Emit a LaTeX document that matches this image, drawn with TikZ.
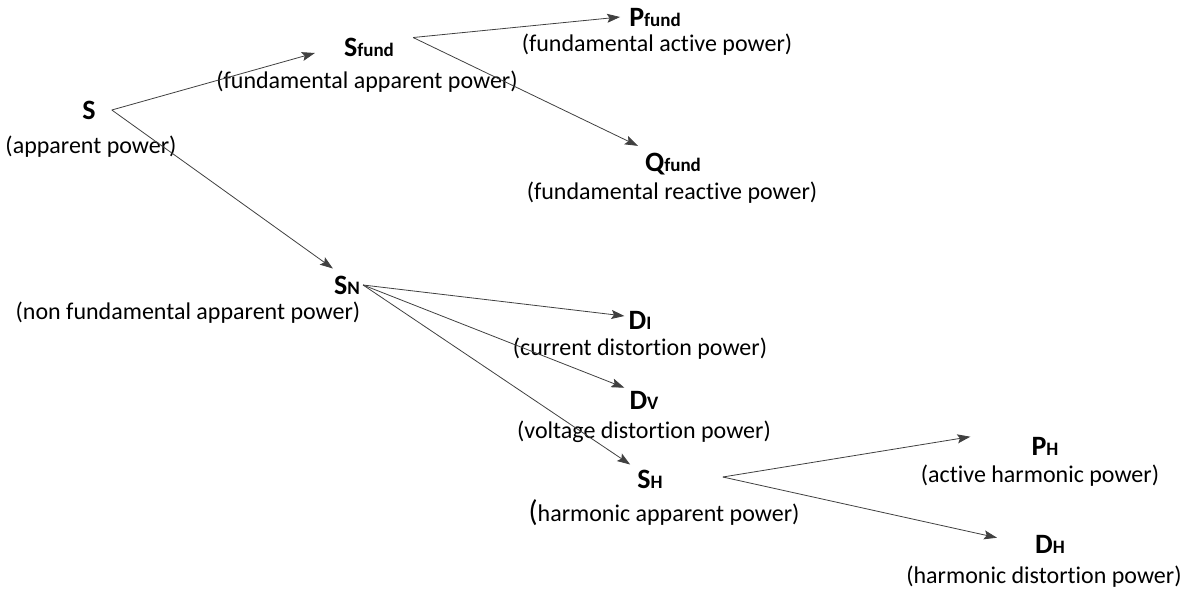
\documentclass[tikz,border=0pt]{standalone}
\usepackage{fontspec}
\setmainfont{Carlito}
\usepackage{xcolor}
\usepackage{tikz}
\usetikzlibrary{arrows.meta, positioning}

\definecolor{arrowgray}{HTML}{404040}
\newcommand{\powsub}[1]{{\fontsize{19}{22}\selectfont #1}}
\newcommand{\nolig}{\kern0pt}

\begin{document}
\begin{tikzpicture}[
        x=1pt, y=-1pt,
        sym/.style={
            inner sep=0pt,
            font=\fontsize{28}{32}\selectfont\bfseries
        },
        desc/.style={
            inner sep=0pt,
            font=\fontsize{24}{28}\selectfont
        },
        line/.style={
            draw=arrowgray,
            line width=0.8pt,
            -{Stealth[length=13pt, width=9pt, inset=2.5pt]}
        }
    ]
    \useasboundingbox (0,0) rectangle (1186,589);

    % --- POWER NODES ---
    \node [sym] (S) at (89,110) {S};
    \node [desc] (S-d) at (91,147) {(apparent power)};

    \node [sym] (Sfund) at (369,47) {S\powsub{fund}};
    \node [desc] (Sfund-d) at (367,82) {(fundamental apparent power)};

    \node [sym] (Pfund) at (655,17) {P\powsub{fund}};
    \node [desc] (Pfund-d) at (657,45) {(fundamental act\nolig ive power)};

    \node [sym] (Qfund) at (673,164) {Q\powsub{fund}};
    \node [desc] (Qfund-d) at (672,193) {(fundamental react\nolig ive power)};

    \node [sym] (SN) at (347,285) {S\powsub{N}};
    \node [desc] (SN-d) at (188,313) {(non fundamental apparent power)};

    \node [sym] (DI) at (640,320) {D\powsub{I}};
    \node [desc] (DI-d) at (640,349) {(current distort\nolig ion power)};

    \node [sym] (DV) at (644,400) {D\powsub{V}};
    \node [desc] (DV-d) at (644,432) {(voltage distort\nolig ion power)};

    \node [sym] (SH) at (650,479) {S\powsub{H}};
    \node [desc] (SH-d) at (664,513) {{\fontsize{30}{30}\selectfont(}harmonic apparent power)};

    \node [sym] (PH) at (1045,446) {P\powsub{H}};
    \node [desc] (PH-d) at (1040,476) {(act\nolig ive harmonic power)};

    \node [sym] (DH) at (1050,544) {D\powsub{H}};
    \node [desc] (DH-d) at (1044,577) {(harmonic distort\nolig ion power)};

    % --- LINKS ---
    \path [line] ([xshift=16pt]S.east) -- ([xshift=-29pt,yshift=-6pt]Sfund.west);
    \path [line] ([xshift=16pt]S.east) -- ([xshift=-1pt,yshift=7pt]SN.north west);

    \path [line] ([xshift=19pt]Sfund.north east) -- ([xshift=-9pt]Pfund.west);
    \path [line] ([xshift=19pt]Sfund.north east) -- ([xshift=-7pt,yshift=7pt]Qfund.north west);

    \path [line] ([xshift=3pt]SN.east) -- ([xshift=-4pt,yshift=4pt]DI.west);
    \path [line] ([xshift=3pt]SN.east) -- ([xshift=-5pt,yshift=3pt]DV.north west);
    \path [line] ([xshift=3pt]SN.east) -- ([xshift=-7pt,yshift=5pt]SH.north west);

    \path [line] ([xshift=60pt,yshift=2pt]SH.east) -- ([xshift=-61pt]PH.north west);
    \path [line] ([xshift=60pt,yshift=2pt]SH.east) -- ([xshift=-38pt,yshift=-3pt]DH.north west);
\end{tikzpicture}
\end{document}
